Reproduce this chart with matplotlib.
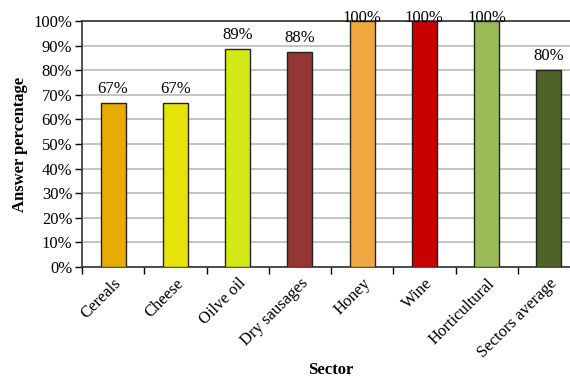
import matplotlib.pyplot as plt
import numpy as np

sectors = ['Cereals', 'Cheese', 'Oilve oil', 'Dry sausages', 'Honey', 'Wine',
           'Horticultural', 'Sectors average']
answer_pct = [66.7, 66.7, 88.6, 87.5, 100, 100, 100, 80]
value_labels = ['67%', '67%', '89%', '88%', '100%', '100%', '100%', '80%']
bar_colors = ['#E6AC00', '#E6E30A', '#D4E817', '#943634', '#F0A841',
              '#C80000', '#9BBB59', '#4F6228']

plt.rcParams['font.family'] = ['Liberation Serif', 'DejaVu Serif']

fig = plt.figure(figsize=(5.7, 3.78), dpi=100)
# plot area runs past the right edge of the picture, like the original crop
ax = fig.add_axes([82 / 570, 111 / 378, 498 / 570, 246 / 378])

x = np.arange(len(sectors))
ax.bar(x, answer_pct, width=0.4, color=bar_colors, edgecolor='#222222',
       linewidth=1, zorder=3)
for xi, v, lab in zip(x, answer_pct, value_labels):
    # labels of full bars sit on the top border, as in the original
    ax.text(xi, min(v + 2.5, 98), lab, ha='center', va='bottom', fontsize=12,
            zorder=4, clip_on=False)

ax.set_xlim(-0.5, len(sectors) - 0.5)
ax.set_ylim(0, 100)
ax.set_yticks(np.arange(0, 101, 10))
ax.set_yticklabels([f'{t}%' for t in range(0, 101, 10)], fontsize=12)
ax.yaxis.grid(True, color='#BFBFBF', linewidth=1.3, zorder=0)

ax.set_xticks(x)
ax.set_xticklabels(sectors, rotation=45, ha='right', rotation_mode='anchor',
                   fontsize=12)
ax.tick_params(axis='x', length=0, pad=6)
ax.set_xticks(np.arange(-0.5, len(sectors)), minor=True)
ax.tick_params(axis='x', which='minor', length=5, width=1, direction='out')
ax.tick_params(axis='y', length=5, width=1, direction='out', pad=2)

for s in ['left', 'bottom', 'top', 'right']:
    ax.spines[s].set_color('#333333')
    ax.spines[s].set_linewidth(1.2)

ax.set_ylabel('Answer percentage', fontsize=12, fontweight='bold', labelpad=4)
ax.set_xlabel('Sector', fontsize=12, fontweight='bold', labelpad=1)

fig.savefig('out.png', dpi=100)
